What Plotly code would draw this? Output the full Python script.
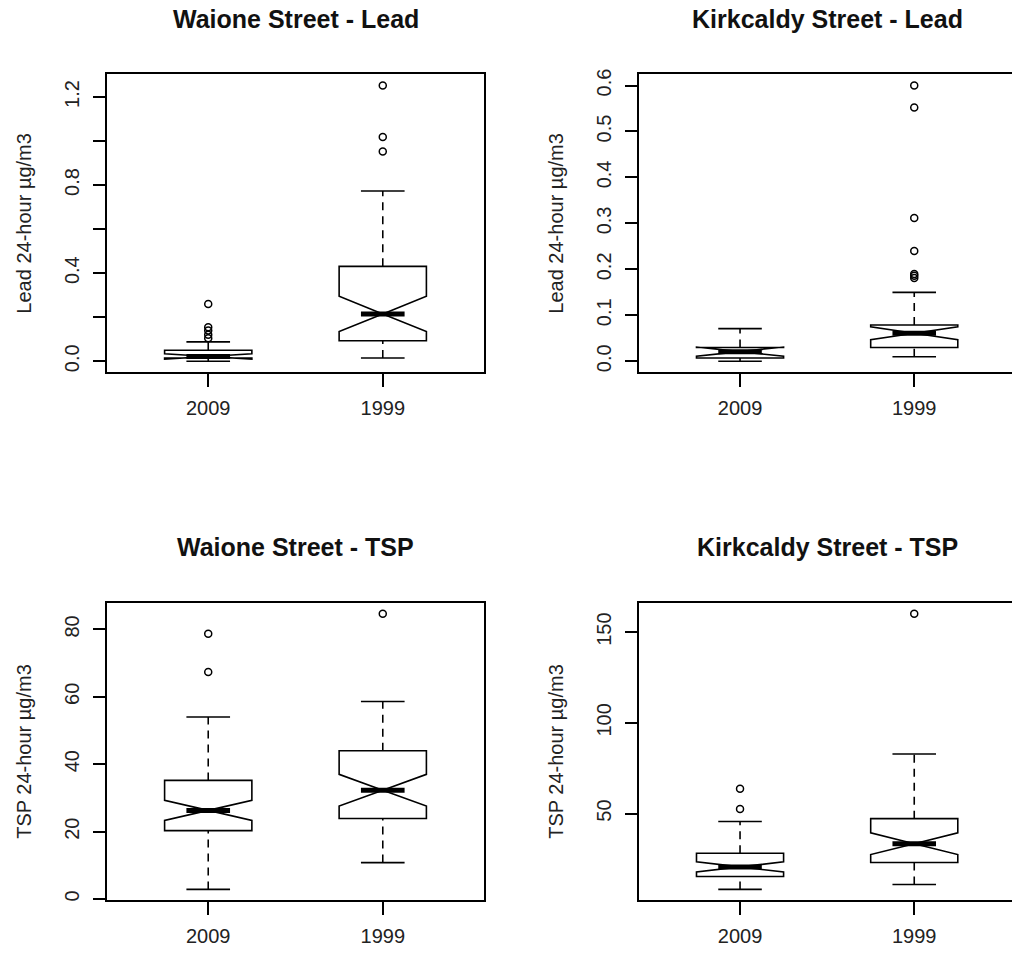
import plotly.graph_objects as go

# ---------------- data ----------------
categories = ["2009", "1999"]
positions = [1, 2]

titles = ["Waione Street - Lead", "Kirkcaldy Street - Lead",
          "Waione Street - TSP", "Kirkcaldy Street - TSP"]
ytitles = ["Lead 24-hour µg/m3", "Lead 24-hour µg/m3",
           "TSP 24-hour µg/m3", "TSP 24-hour µg/m3"]

# Waione Street - Lead
wl_q1 = [0.015, 0.093]
wl_median = [0.022, 0.215]
wl_q3 = [0.050, 0.431]
wl_lower = [0.000, 0.015]
wl_upper = [0.088, 0.773]
wl_notch = [0.012, 0.080]
wl_out = [[0.105, 0.12, 0.14, 0.155, 0.26], [0.952, 1.018, 1.252]]

# Kirkcaldy Street - Lead
kl_q1 = [0.007, 0.030]
kl_median = [0.021, 0.061]
kl_q3 = [0.030, 0.079]
kl_lower = [0.000, 0.010]
kl_upper = [0.071, 0.150]
kl_notch = [0.010, 0.014]
kl_out = [[], [0.181, 0.186, 0.190, 0.240, 0.312, 0.552, 0.600]]

# Waione Street - TSP
wt_q1 = [20.3, 23.9]
wt_median = [26.3, 32.3]
wt_q3 = [35.2, 44.0]
wt_lower = [2.85, 10.8]
wt_upper = [54.0, 58.6]
wt_notch = [3.0, 4.7]
wt_out = [[67.4, 78.7], [84.7]]

# Kirkcaldy Street - TSP
kt_q1 = [15.3, 23.0]
kt_median = [20.6, 33.4]
kt_q3 = [28.1, 47.2]
kt_lower = [8.2, 10.9]
kt_upper = [45.6, 82.8]
kt_notch = [2.8, 6.0]
kt_out = [[52.5, 63.7], [160.2]]

# y tick values / labels
wl_ticks = [0.0, 0.2, 0.4, 0.6, 0.8, 1.0, 1.2]
wl_ticktext = ["0.0", "", "0.4", "", "0.8", "", "1.2"]
kl_ticks = [0.0, 0.1, 0.2, 0.3, 0.4, 0.5, 0.6]
kl_ticktext = ["0.0", "0.1", "0.2", "0.3", "0.4", "0.5", "0.6"]
wt_ticks = [0, 20, 40, 60, 80]
wt_ticktext = ["0", "20", "40", "60", "80"]
kt_ticks = [50, 100, 150]
kt_ticktext = ["50", "100", "150"]

panels = [
    (wl_q1, wl_median, wl_q3, wl_lower, wl_upper, wl_notch, wl_out, wl_ticks, wl_ticktext),
    (kl_q1, kl_median, kl_q3, kl_lower, kl_upper, kl_notch, kl_out, kl_ticks, kl_ticktext),
    (wt_q1, wt_median, wt_q3, wt_lower, wt_upper, wt_notch, wt_out, wt_ticks, wt_ticktext),
    (kt_q1, kt_median, kt_q3, kt_lower, kt_upper, kt_notch, kt_out, kt_ticks, kt_ticktext),
]

# ---------------- layout geometry ----------------
W, H = 1012, 959
FONT = "Liberation Sans, Arial, Helvetica, sans-serif"
BOXW = 0.5
HALF = BOXW / 4  # median / staple half width
XRANGE_FULL = [0.42, 2.58]

# pixel boxes (left, right, top, bottom)
px_boxes = [(107, 484, 69, 369), (639, 1012, 69, 369),
            (107, 484, 601, 901), (639, 1012, 601, 901)]
# right-hand panels are clipped by the picture edge
xranges = [XRANGE_FULL, [0.42, 0.42 + (1012 - 639) / 174.2],
           XRANGE_FULL, [0.42, 0.42 + (1012 - 639) / 174.2]]
right_frame = [True, False, True, False]
title_centers = [295.5, 827, 295.5, 827]
title_y = [13, 13, 545, 545]

fig = go.Figure()
layout = dict(width=W, height=H, margin=dict(l=0, r=0, t=0, b=0),
              paper_bgcolor="white", plot_bgcolor="white",
              showlegend=False, font=dict(family=FONT, color="#111"))
annotations = []

for i, (q1, med, q3, lo, up, notch, outs, yt, ytt) in enumerate(panels):
    n = "" if i == 0 else str(i + 1)
    xa, ya = "x" + n, "y" + n
    l, r, t, b = px_boxes[i]

    # boxes (notched)
    fig.add_trace(go.Box(
        x=positions, q1=q1, median=med, q3=q3, lowerfence=q1, upperfence=q3,
        notched=True, notchspan=notch, notchwidth=0.5, width=BOXW,
        whiskerwidth=0, boxpoints=False, fillcolor="white",
        line=dict(color="black", width=1.6), xaxis=xa, yaxis=ya,
        hoverinfo="skip"))

    # dashed whiskers, solid staples, thick medians
    wx, wy = [], []
    sx, sy = [], []
    mx, my = [], []
    for p, a, b_, c, d, m in zip(positions, lo, q1, q3, up, med):
        wx += [p, p, None, p, p, None]
        wy += [a, b_, None, c, d, None]
        sx += [p - HALF, p + HALF, None, p - HALF, p + HALF, None]
        sy += [a, a, None, d, d, None]
        mx += [p - HALF, p + HALF, None]
        my += [m, m, None]
    fig.add_trace(go.Scatter(x=wx, y=wy, mode="lines", xaxis=xa, yaxis=ya,
                             line=dict(color="black", width=1.6, dash="8px,6px"),
                             hoverinfo="skip"))
    fig.add_trace(go.Scatter(x=sx, y=sy, mode="lines", xaxis=xa, yaxis=ya,
                             line=dict(color="black", width=1.6), hoverinfo="skip"))
    fig.add_trace(go.Scatter(x=mx, y=my, mode="lines", xaxis=xa, yaxis=ya,
                             line=dict(color="black", width=5), hoverinfo="skip"))
    # outliers
    ox, oy = [], []
    for p, vals in zip(positions, outs):
        ox += [p] * len(vals)
        oy += vals
    fig.add_trace(go.Scatter(x=ox, y=oy, mode="markers", xaxis=xa, yaxis=ya,
                             marker=dict(symbol="circle-open", size=7, color="black",
                                         line=dict(width=1.5, color="black")),
                             hoverinfo="skip"))

    # R-like y range (data range extended 4%)
    allv = lo + up + [v for vals in outs for v in vals]
    vmin, vmax = min(allv), max(allv)
    ext = 0.04 * (vmax - vmin)

    layout["xaxis" + n] = dict(
        domain=[l / W, r / W], anchor=ya, range=xranges[i],
        tickvals=positions, ticktext=categories, ticks="outside", ticklen=13,
        tickwidth=1.5, tickcolor="black", showline=True, mirror=True,
        linecolor="black", linewidth=1.6, showgrid=False, zeroline=False,
        tickfont=dict(size=20, family=FONT, color="#222"), ticklabelstandoff=4)
    layout["yaxis" + n] = dict(
        domain=[1 - b / H, 1 - t / H], anchor=xa, range=[vmin - ext, vmax + ext],
        tickvals=yt, ticktext=ytt, ticks="outside", ticklen=12, tickwidth=1.5,
        tickcolor="black", showline=True, mirror=right_frame[i], linecolor="black",
        linewidth=1.6, showgrid=False, zeroline=False, tickangle=-90,
        tickfont=dict(size=20, family=FONT, color="#222"), ticklabelstandoff=6,
        title=dict(text=ytitles[i], font=dict(size=20, family=FONT, color="#222"),
                   standoff=24))
    annotations.append(dict(
        text="<b>" + titles[i] + "</b>", x=title_centers[i] / W, y=1 - title_y[i] / H,
        xref="paper", yref="paper", xanchor="center", yanchor="middle",
        showarrow=False, font=dict(size=25, family=FONT, color="#111")))

layout["annotations"] = annotations
fig.update_layout(**layout)
fig.write_html("out.html", config={"displayModeBar": False},
               post_script="document.body.style.margin='0';")
